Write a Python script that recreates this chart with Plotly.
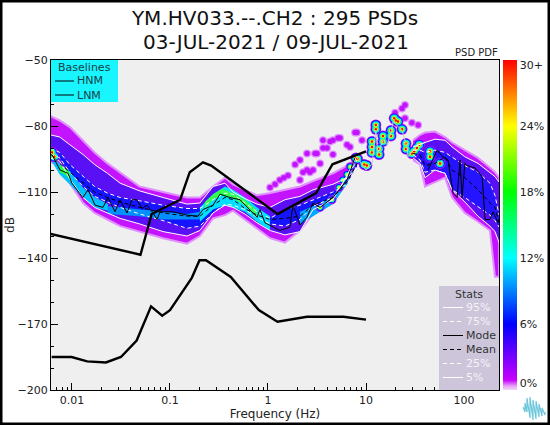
import plotly.graph_objects as go

TITLE_LINES = ["YM.HV033.--.CH2 : 295 PSDs", "03-JUL-2021 / 09-JUL-2021"]
X_TICKS = [0.01, 0.1, 1, 10, 100]
X_LABELS = ["0.01", "0.1", "1", "10", "100"]
X_MINOR = [m * d for d in (0.001, 0.01, 0.1, 1, 10, 100) for m in range(2, 10)]
Y_TICKS = [-50, -80, -110, -140, -170, -200]
CB_TICKS = [0.6, 6, 12, 18, 24, 29.5]
CB_LABELS = ["0%", "6%", "12%", "18%", "24%", "30+"]

F_LOW = [0.006, 0.0075, 0.0095, 0.013, 0.017, 0.023, 0.031, 0.049, 0.085, 0.149, 0.202, 0.275,
         0.364, 0.44, 0.582, 0.773, 1.05, 1.49, 2.12, 2.88, 4.6, 6.4, 8.1]
ENV_UP_LOW = [-75.5, -77.5, -80.5, -86.5, -92, -97, -101, -107.5, -110, -112.5, -112.5, -107.5,
              -103.5, -106.5, -109, -111.5, -110.5, -109, -107.5, -105, -101.5, -98, -94.5]
ENV_DN_LOW = [-96.5, -97.5, -106, -115, -119.5, -122.5, -125.5, -128, -131, -133.5, -130, -122,
              -120.5, -118.5, -122.5, -126.5, -131, -133, -127.5, -120, -115, -104.5, -95.5]
P95_LOW = [-84, -85, -88.5, -93, -97.5, -101.5, -106, -109.5, -112.5, -115.5, -115, -107.5,
           -106, -110, -113, -115.5, -117, -113.5, -112, -109, -106.5, -103.5, -99]
P75_LOW = [-90, -92, -97.5, -103, -107.5, -110.5, -112.5, -114, -116, -117.5, -117.5, -113.5,
           -110.5, -111, -115, -119, -122, -118, -116, -113.5, -110, -106.5, -98]
MEAN_LOW = [-92.5, -97, -101, -106, -110, -112.5, -114.5, -117, -119.5, -121, -121, -116,
            -112.5, -113.5, -117.5, -120.5, -122.5, -122, -121, -116, -112.5, -105.5, -97]
P25_LOW = [-92.5, -94.5, -101, -107.5, -112, -114.5, -117, -120, -123, -126.5, -125.5, -119.5,
           -115.5, -116, -118, -121.5, -124.5, -125.5, -122.5, -116.5, -112.5, -103.5, -95.5]
P5_LOW = [-94.5, -96, -104, -112.5, -117, -119.5, -122, -124.5, -128, -130, -127.5, -119.5,
          -116, -117, -120, -124, -127.5, -129.5, -128, -118, -113.5, -102.5, -93.5]

F_RIDGE = [8.1, 9.3, 10, 11.5, 12.6, 13.2, 14.9, 16.4, 18, 18.9, 23.3, 26.2, 26.8, 34, 40]
DB_RIDGE = [-94.5, -98.5, -100, -97.5, -82, -92.5, -86.5, -88.5, -83, -78, -82, -89.5, -94, -88.5, -87.5]

F_HIGH = [30.2, 35.6, 40, 50.6, 64, 75.5, 102, 139, 184, 207, 228]
ENV_UP_HIGH = [-86.5, -84, -83, -82.5, -85, -87.5, -91, -94.5, -99, -101, -103.5]
ENV_DN_HIGH = [-95.5, -97.5, -107.5, -105.5, -103.5, -112.5, -119.5, -123.5, -127.5, -148.5, -148.5]
P95_HIGH = [-89.5, -88.5, -87.5, -86, -86.5, -89.5, -94, -97, -101, -103, -105.5]
P75_HIGH = [-91, -91, -92, -91, -92, -94, -98, -101, -106, -111.5, -120.5]
MEAN_HIGH = [-92.5, -93, -98, -97, -94, -100, -103.5, -109, -115, -117, -124]
P25_HIGH = [-93, -95.5, -101, -100, -101.5, -109, -112.5, -116.5, -120.5, -123, -126]
P5_HIGH = [-94.5, -97, -103.5, -100, -101.5, -109, -114.5, -121, -125.5, -128, -133]

F_MODE = [0.00625, 0.00755, 0.0091, 0.01, 0.0129, 0.0146, 0.0172, 0.0207, 0.0233, 0.0275, 0.0309,
          0.0364, 0.0409, 0.046, 0.0518, 0.0582, 0.0671, 0.0737, 0.0791, 0.107, 0.149, 0.193,
          0.217, 0.275, 0.324, 0.409, 0.518, 0.773, 0.828, 0.931, 1.32, 1.67, 1.8, 2.12, 2.5,
          2.88, 3.4, 4.6, 6.4, 7.7]
DB_MODE = [-93, -100, -101.5, -106, -112.5, -109, -116, -117, -112.5, -119, -113.5,
           -119.5, -113.5, -113.5, -117.5, -116, -119.5, -122.5, -119, -119, -120.5, -121,
           -118, -116, -111, -112.5, -113.5, -121.5, -118, -124, -127.5, -126, -116, -125, -121.5,
           -115, -117, -112.5, -104.5, -94.5]
F_MODE_HIGH = [43, 53, 61, 68.7, 77.3, 84.9, 91, 95.5, 102, 107, 129, 153, 164, 184, 198, 222]
DB_MODE_HIGH = [-100, -91, -94, -95.5, -110.5, -112.5, -95.5, -112.5, -97, -98, -99, -103,
                -122.5, -122.5, -119, -124]

F_HNM = [0.006, 0.05, 0.065, 0.127, 0.159, 0.217, 0.263, 1.25, 3.1, 4.55, 10]
DB_HNM = [-129, -138.5, -120, -113.5, -101, -96.5, -98, -120, -110.5, -97.4, -91.5]
F_LNM = [0.0062, 0.0099, 0.0143, 0.0222, 0.0316, 0.0457, 0.0641, 0.0833, 0.1, 0.167, 0.2, 0.233,
         0.417, 0.806, 1.25, 2.5, 5.88, 10]
DB_LNM = [-185, -185, -187, -187.5, -185, -177.5, -162, -166.2, -163.7, -149, -141, -141,
          -148.6, -163.7, -169, -166.7, -166.7, -168]

F_CORE_LEFT = [0.0061, 0.0075, 0.0095, 0.0129, 0.0172, 0.0233]
UP_CORE_LEFT = [-90.5, -97.5, -100.5, -108, -112.5, -115.5]
DN_CORE_LEFT = [-95.5, -102, -106.5, -112.5, -117, -118.5]
F_CORE_MID = [0.0233, 0.049, 0.085, 0.149, 0.202]
UP_CORE_MID = [-116.5, -118, -119, -120, -119]
DN_CORE_MID = [-120, -121, -122.5, -122.5, -122.5]
F_CORE_HUMP = [0.202, 0.275, 0.364, 0.44, 0.582, 0.773, 1.05]
UP_CORE_HUMP = [-117, -111, -107.5, -109, -112.5, -117, -121]
DN_CORE_HUMP = [-123.5, -118, -116, -117, -119, -123.5, -127.5]
F_GREEN_HUMP = [0.227, 0.275, 0.34, 0.44, 0.582, 0.773]
UP_GREEN_HUMP = [-114.5, -111, -108.5, -110.5, -113.5, -118.5]
DN_GREEN_HUMP = [-117.5, -113.5, -111.5, -113, -116, -121.5]
F_CORE_RIGHT = [2.12, 2.88, 4.6, 6.4, 8.1]
UP_CORE_RIGHT = [-119, -116.5, -112, -102.5, -93.5]
DN_CORE_RIGHT = [-124.5, -121, -115.5, -106.5, -96.5]
F_GREEN_LEFT = [0.0075, 0.0085, 0.0095]
UP_GREEN_LEFT = [-98, -99, -101]
DN_GREEN_LEFT = [-101, -102, -104.5]

F_BLOB = [7.9, 8.2, 9.6, 10.2, 11.5, 11.5, 11.5, 13.6, 13.6, 12.6, 12.6, 14.9, 14.9, 18, 18, 19.4, 20.2, 21.2,
          23.3, 25.6, 25.6, 29.4, 31, 33, 35, 45, 45, 56.9, 0.00625, 0.0066]
DB_BLOB = [-94.5, -95, -97.5, -98, -87, -89.5, -92, -90.5, -93, -79.5, -81.5, -84.5, -87, -82, -84.5, -76.5, -77.5,
           -78, -81.5, -88, -90.5, -92.5, -91.5, -90, -88.5, -91.5, -94, -97, -92, -94]
F_SMALL = [3.4, 4.5, 5.3, 5.8, 6.4, 6.9]
DB_SMALL = [-117, -113.5, -108, -104.5, -102, -98.5]
F_SPARSE = [1.05, 1.18, 1.32, 1.45, 1.6, 1.89, 2.12, 2.12, 2.28, 2.5, 2.5, 2.68, 2.88, 3.02, 3.16, 3.64, 3.64, 4,
            4.3, 4.6, 5.18, 5.43, 6.4, 6.87, 7.73, 8.09, 9.1, 3.4, 4.6, 19.8, 23.3, 25, 25, 29.4, 34]
DB_SPARSE = [-108, -106.5, -104.5, -103.5, -102.5, -97.5, -95.5, -104.5, -101, -92.5, -100, -101, -100, -92.5, -92.5,
             -90, -86.5, -90, -87, -86.5, -85.5, -85.5, -88.5, -89.5, -83, -83, -86.5, -97, -93,
             -74, -72, -70.5, -76.5, -78.5, -79.5]

BASELINE_ROWS = ["HNM", "LNM"]
STATS_ROWS = ["95%", "75%", "Mode", "Mean", "25%", "5%"]
STATS_COLORS = ["white", "white", "black", "black", "white", "white"]
STATS_DASH = ["solid", "4px,3px", "solid", "4px,3px", "4px,3px", "solid"]

FONT = "DejaVu Sans"
PURPLE = "#c414ff"
fig = go.Figure()


def band(f, up, dn, color, edge=None):
    fig.add_trace(go.Scatter(
        x=list(f) + list(f)[::-1], y=list(up) + list(dn)[::-1], mode="lines", fill="toself",
        fillcolor=color, line=dict(color=edge or color, width=2 if edge else 0),
        hoverinfo="skip", showlegend=False))


def pct_line(f, y, color, dash="solid", width=1, name=None):
    fig.add_trace(go.Scatter(x=f, y=y, mode="lines", name=name, showlegend=False,
                             line=dict(color=color, dash=dash, width=width)))


def blobs(f, y, size, color):
    fig.add_trace(go.Scatter(x=f, y=y, mode="markers", showlegend=False, hoverinfo="skip",
                             marker=dict(size=size, color=color, line=dict(width=0))))


blobs(F_SPARSE, DB_SPARSE, 8, "#e090ff")
blobs(F_SPARSE, DB_SPARSE, 5.5, PURPLE)
band(F_LOW, ENV_UP_LOW, ENV_DN_LOW, PURPLE, "#e090ff")
band(F_HIGH, ENV_UP_HIGH, ENV_DN_HIGH, PURPLE, "#e090ff")
band(F_LOW, P95_LOW, P5_LOW, "#5a10f5")
band(F_HIGH, P95_HIGH, P5_HIGH, "#5a10f5")
band(F_LOW, P75_LOW, P25_LOW, "#1414ff")
band(F_HIGH, P75_HIGH, P25_HIGH, "#2414ff")
band(F_CORE_MID, UP_CORE_MID, DN_CORE_MID, "#0090ff")
band(F_CORE_LEFT, UP_CORE_LEFT, DN_CORE_LEFT, "#00c0ff")
band(F_GREEN_LEFT, UP_GREEN_LEFT, DN_GREEN_LEFT, "#20ff40")
band(F_CORE_HUMP, UP_CORE_HUMP, DN_CORE_HUMP, "#00e0ff")
band(F_GREEN_HUMP, UP_GREEN_HUMP, DN_GREEN_HUMP, "#30ff50")
band(F_CORE_RIGHT, UP_CORE_RIGHT, DN_CORE_RIGHT, "#00a8ff")

for sz, col in zip((11, 9.5, 7.5, 5.5, 4, 2.5), (PURPLE, "#1010ff", "#00e8ff", "#30ff60", "#ffff00", "#ff0000")):
    blobs(F_BLOB, DB_BLOB, sz, col)
for sz, col in zip((9, 7, 5, 3), (PURPLE, "#0020ff", "#00ffc0", "#e0ff00")):
    blobs(F_SMALL, DB_SMALL, sz, col)

pct_line(F_RIDGE, DB_RIDGE, "#c8c8c8", name="ridge")
for (fa, ya, fb, yb, col, dash, nm) in (
        (F_LOW, P95_LOW, F_HIGH, P95_HIGH, "white", "solid", "95%"),
        (F_LOW, P75_LOW, F_HIGH, P75_HIGH, "white", "4px,3px", "75%"),
        (F_LOW, P25_LOW, F_HIGH, P25_HIGH, "white", "4px,3px", "25%"),
        (F_LOW, P5_LOW, F_HIGH, P5_HIGH, "white", "solid", "5%"),
        (F_LOW, MEAN_LOW, F_HIGH, MEAN_HIGH, "black", "4px,3px", "Mean")):
    pct_line(fa, ya, col, dash, name=nm)
    pct_line(fb, yb, col, dash, name=nm)
pct_line(F_MODE, DB_MODE, "black", name="Mode")
pct_line(F_MODE_HIGH, DB_MODE_HIGH, "black", name="Mode")
pct_line(F_HNM, DB_HNM, "black", width=2.4, name="HNM")
pct_line(F_LNM, DB_LNM, "black", width=2.4, name="LNM")

fig.add_trace(go.Scatter(
    x=[1], y=[-300], mode="markers", showlegend=False, hoverinfo="skip",
    marker=dict(color=[0], cmin=0, cmax=30, showscale=True,
                colorscale=[[0, "#f0d8f4"], [0.012, "#e8a0f8"], [0.03, "#c800ff"], [0.2, "#0000ff"],
                            [0.4, "#00ffff"], [0.6, "#00ff00"], [0.8, "#ffff00"], [1, "#ff0000"]],
                colorbar=dict(x=452 / 448, xanchor="left", xpad=0, ypad=0, thickness=14, len=1,
                              y=0.5, yanchor="middle", outlinewidth=0, ticks="", tickvals=CB_TICKS,
                              ticktext=CB_LABELS, tickfont=dict(family=FONT, size=11, color="#222")))))


def px(x):
    return (x - 51) / 448


def py(y):
    return (390 - y) / 330


shapes = [
    dict(type="rect", xref="paper", yref="paper", x0=px(1), x1=px(549), y0=py(424), y1=py(1),
         line=dict(color="black", width=3), layer="below"),
    dict(type="rect", xref="paper", yref="paper", x0=px(51), x1=px(118), y0=py(102), y1=py(60),
         fillcolor="#19f5ff", line=dict(width=0)),
    dict(type="rect", xref="paper", yref="paper", x0=px(439), x1=px(499), y0=py(390), y1=py(286),
         fillcolor="#cdc6da", line=dict(width=0)),
]
annotations = []


def label(x, y, text, color="#222", size=11, xanchor="left"):
    annotations.append(dict(xref="paper", yref="paper", x=px(x), y=py(y), text=text, showarrow=False,
                            xanchor=xanchor, yanchor="middle", xshift=0,
                            font=dict(family=FONT, size=size, color=color)))


label(84.5, 67, "Baselines", "#163f46", xanchor="center")
for i, name in enumerate(BASELINE_ROWS):
    rowy = 81 + 14 * i
    shapes.append(dict(type="line", xref="paper", yref="paper", x0=px(55), x1=px(74), y0=py(rowy), y1=py(rowy),
                       line=dict(color="black", width=1)))
    label(75, rowy, name, "#163f46")
label(469, 294, "Stats", "#333", xanchor="center")
for i, name in enumerate(STATS_ROWS):
    rowy = 307.5 + 14 * i
    shapes.append(dict(type="line", xref="paper", yref="paper", x0=px(443), x1=px(463), y0=py(rowy), y1=py(rowy),
                       line=dict(color=STATS_COLORS[i], width=1, dash=STATS_DASH[i])))
    label(464, rowy, name, "#f4f2f8" if STATS_COLORS[i] == "white" else "#333")
label(500, 53, "PSD PDF", "#222", size=10, xanchor="right")
label(275.5, 42, TITLE_LINES[1], "#111", size=20, xanchor="center")

LOGO_X = [523, 525, 525, 527, 527, 530, 530, 533, 533, 536, 536, 539, 539, 542, 542, 545, 545]
LOGO_Y = [407, 412, 403, 412, 398, 418, 397, 420, 400, 419, 401, 417, 404, 416, 408, 415, 412]
path = "M " + " L ".join(f"{px(a):.4f},{py(b):.4f}" for a, b in zip(LOGO_X, LOGO_Y))
shapes.append(dict(type="path", xref="paper", yref="paper", path=path, line=dict(color="#6cc6dc", width=1.2)))

fig.update_layout(
    width=550, height=425, autosize=False,
    margin=dict(l=51, r=51, t=60, b=35, autoexpand=False, pad=0),
    paper_bgcolor="white", plot_bgcolor="#efefef", showlegend=False,
    font=dict(family=FONT, size=11, color="#222"),
    title=dict(text=TITLE_LINES[0], x=0.5, xanchor="center", y=0.958, yanchor="middle",
               font=dict(family=FONT, size=20, color="#111")),
    xaxis=dict(type="log", range=[-2.214, 2.357], tickvals=X_TICKS, ticktext=X_LABELS, ticks="inside",
               ticklen=7, tickcolor="black", tickwidth=1, showgrid=False, zeroline=False,
               showline=True, linecolor="black", linewidth=1.2, mirror=True,
               minor=dict(tickvals=X_MINOR, ticks="inside", ticklen=3, tickcolor="black", tickwidth=1, showgrid=False),
               title=dict(text="Frequency (Hz)", standoff=3, font=dict(family=FONT, size=12)),
               tickfont=dict(family=FONT, size=11)),
    yaxis=dict(range=[-200, -50], tickvals=Y_TICKS, ticks="inside", ticklen=7, tickcolor="black", tickwidth=1,
               showgrid=False, zeroline=False, showline=True, linecolor="black", linewidth=1.2, mirror=True,
               minor=dict(dtick=10, ticks="inside", ticklen=3, tickcolor="black", tickwidth=1, showgrid=False),
               title=dict(text="dB", standoff=0, font=dict(family=FONT, size=12)),
               tickfont=dict(family=FONT, size=11)),
    shapes=shapes, annotations=annotations,
)
fig.write_html("out.html", config={"displayModeBar": False},
               post_script="document.body.style.margin='0';document.body.style.overflow='hidden';")
